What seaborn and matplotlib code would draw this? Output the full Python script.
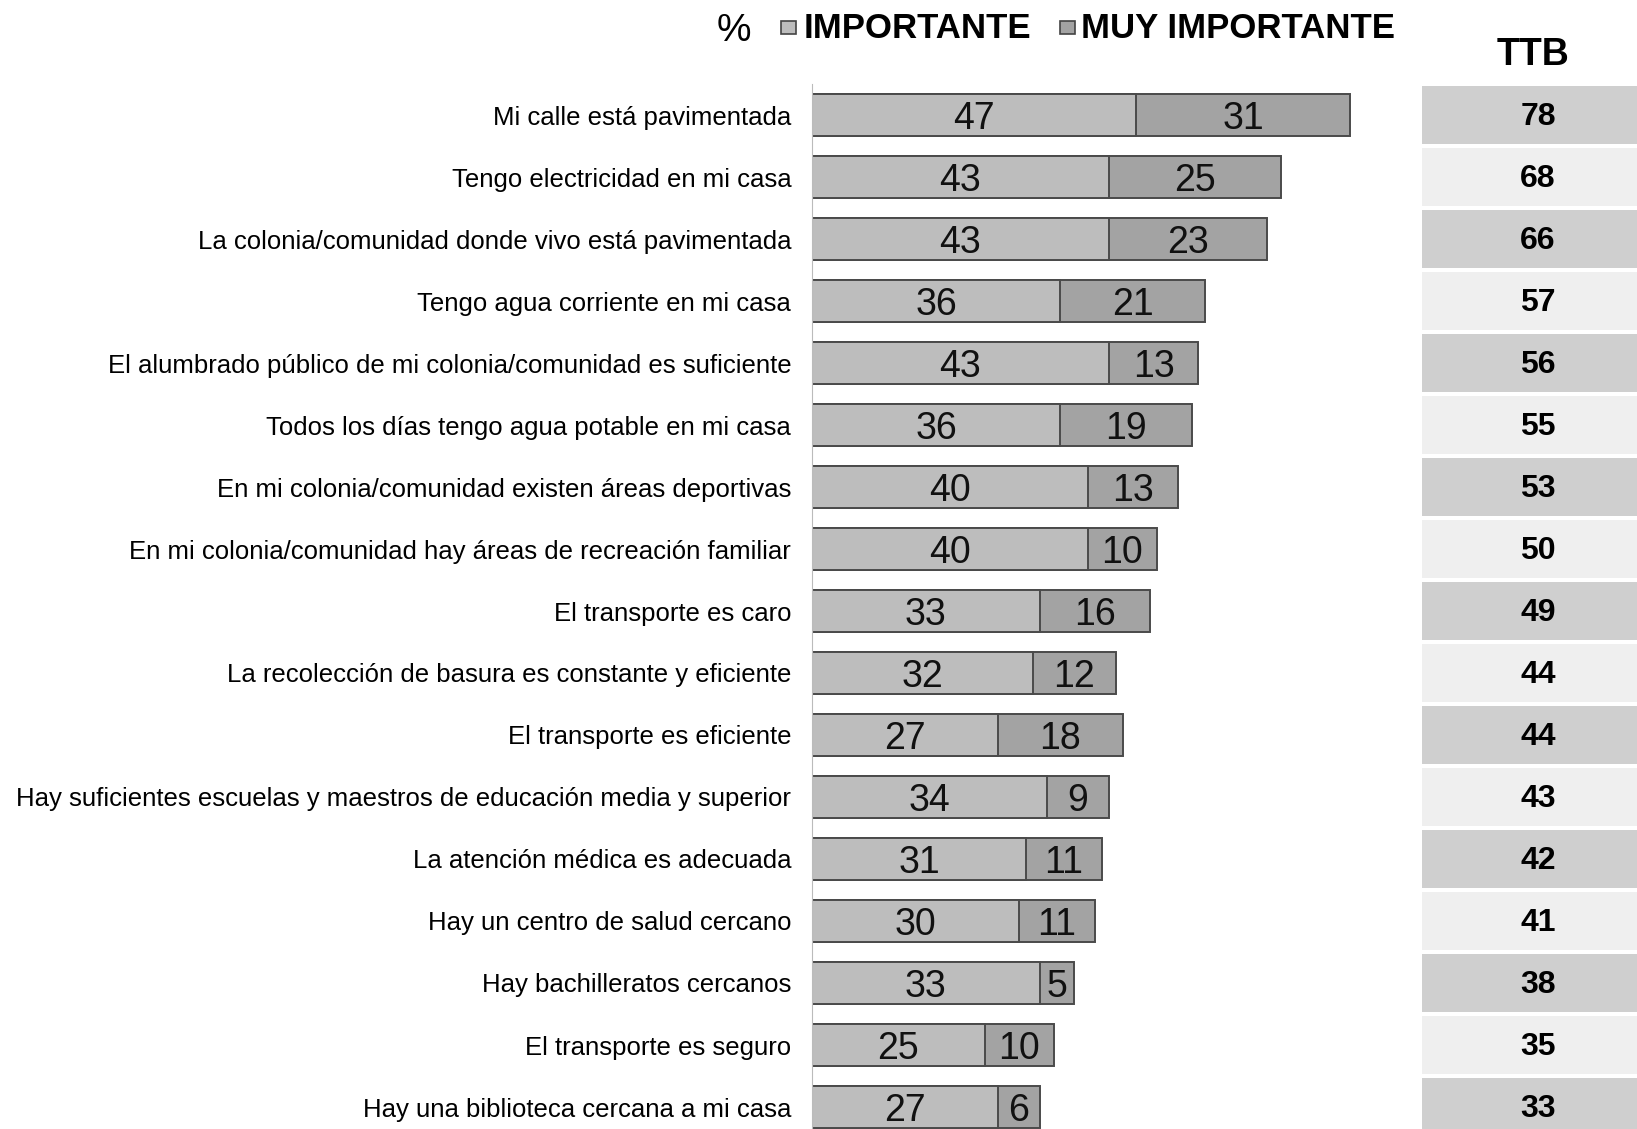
import matplotlib.pyplot as plt
import numpy as np
import pandas as pd
import seaborn as sns

labels = [
    "Mi calle está pavimentada",
    "Tengo electricidad en mi casa",
    "La colonia/comunidad donde vivo está pavimentada",
    "Tengo agua corriente en mi casa",
    "El alumbrado público de mi colonia/comunidad es suficiente",
    "Todos los días tengo agua potable en mi casa",
    "En mi colonia/comunidad existen áreas deportivas",
    "En mi colonia/comunidad hay áreas de recreación familiar",
    "El transporte es caro",
    "La recolección de basura es constante y eficiente",
    "El transporte es eficiente",
    "Hay suficientes escuelas y maestros de educación media y superior",
    "La atención médica es adecuada",
    "Hay un centro de salud cercano",
    "Hay bachilleratos cercanos",
    "El transporte es seguro",
    "Hay una biblioteca cercana a mi casa",
]
importante = [47, 43, 43, 36, 43, 36, 40, 40, 33, 32, 27, 34, 31, 30, 33, 25, 27]
muy_importante = [31, 25, 23, 21, 13, 19, 13, 10, 16, 12, 18, 9, 11, 11, 5, 10, 6]
ttb = [78, 68, 66, 57, 56, 55, 53, 50, 49, 44, 44, 43, 42, 41, 38, 35, 33]

df = pd.DataFrame({"item": labels, "imp": importante, "muy": muy_importante, "ttb": ttb})
df["total"] = df["imp"] + df["muy"]

sns.set_style("white")
plt.rcParams["font.family"] = ["Liberation Sans", "DejaVu Sans"]
plt.rcParams["text.color"] = "black"
plt.rcParams["ytick.color"] = "black"
narrow = ["Liberation Sans Narrow", "Liberation Sans", "DejaVu Sans"]

c_imp = "#bdbdbd"
c_muy = "#a3a3a3"

W, H = 1637, 1129
fig = plt.figure(figsize=(W / 100, H / 100), dpi=100)

# rows: centre of row 0 at 115px, 62px apart
top_px = 115 - 31
ymax = (H - 115) / 62
ax = fig.add_axes([812 / W, 0, (1410 - 812) / W, (H - top_px) / H])
sns.barplot(data=df, x="total", y="item", color=c_muy, width=0.68, orient="h",
            edgecolor="#4a4a4a", linewidth=1.4, ax=ax, label="MUY IMPORTANTE")
sns.barplot(data=df, x="imp", y="item", color=c_imp, width=0.68, orient="h",
            edgecolor="#4a4a4a", linewidth=1.4, ax=ax, label="IMPORTANTE")
ax.set_xlim(0, (1410 - 812) / 6.9)
ax.set_ylim(ymax, -0.5)
ax.set(xlabel="", ylabel="", xticks=[])
ax.tick_params(axis="y", length=0, pad=15, labelsize=18.5, labelcolor="black")
ax.spines[["top", "right", "bottom"]].set_visible(False)
ax.spines["left"].set_color("#bbbbbb")
ax.spines["left"].set_linewidth(0.8)
if ax.get_legend():
    ax.get_legend().remove()

for i, row in df.iterrows():
    ax.text(row["imp"] / 2, i + 0.06, str(row["imp"]), ha="center", va="center",
            fontsize=27, family=narrow, color="#111111")
    ax.text(row["imp"] + row["muy"] / 2, i + 0.06, str(row["muy"]), ha="center",
            va="center", fontsize=27, family=narrow, color="#111111")

# TTB column
ax2 = fig.add_axes([1422 / W, 0, (W - 1422) / W, (H - top_px) / H])
for i, v in enumerate(ttb):
    shade = "#cfcfcf" if i % 2 == 0 else "#efefef"
    ax2.axhspan(i - 0.47, i + 0.47, color=shade, lw=0)
    ax2.text(0.54, i + 0.04, str(v), ha="center", va="center", fontsize=23,
             fontweight="bold", color="black", transform=ax2.get_yaxis_transform())
ax2.set_ylim(ymax, -0.5)
ax2.set_xlim(0, 1)
ax2.axis("off")

fig.text(1533 / W, 1 - 55 / H, "TTB", ha="center", va="center", fontsize=27,
         fontweight="bold")

# legend line
fig.text(734 / W, 1 - 31 / H, "%", ha="center", va="center", fontsize=28,
         family=narrow)
fig.patches.append(plt.Rectangle((781 / W, 1 - 34 / H), 15 / W, 13 / H,
                                 transform=fig.transFigure, fc=c_imp, ec="#444444", lw=1.2))
fig.text(804 / W, 1 - 28 / H, "IMPORTANTE", ha="left", va="center", fontsize=25,
         fontweight="bold", family=narrow)
fig.patches.append(plt.Rectangle((1060 / W, 1 - 34 / H), 15 / W, 13 / H,
                                 transform=fig.transFigure, fc=c_muy, ec="#444444", lw=1.2))
fig.text(1081 / W, 1 - 28 / H, "MUY IMPORTANTE", ha="left", va="center", fontsize=25,
         fontweight="bold", family=narrow)

fig.savefig("out.png", dpi=100, facecolor="white")
